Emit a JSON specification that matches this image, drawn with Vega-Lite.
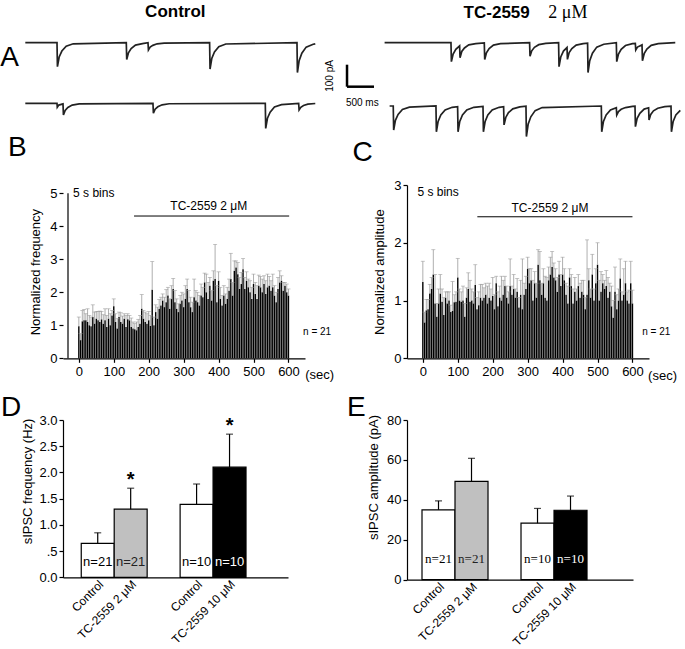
{
"$schema": "https://vega.github.io/schema/vega-lite/v6.json",
"background": "white",
"padding": {"left": 0, "top": 3, "right": 0, "bottom": 0},
"columns": 2,
"spacing": {"row": 61, "column": 102},
"bounds": "flush",
"align": "each",
"config": {
  "view": {"stroke": null},
  "font": "Liberation Sans",
  "axis": {"grid": false, "domainColor": "black", "domainWidth": 1.2, "tickColor": "black", "tickWidth": 1.2, "tickSize": 4, "labelColor": "black", "labelFont": "Liberation Sans", "labelFontSize": 13, "titleFont": "Liberation Sans", "titleFontSize": 13, "titleFontWeight": "normal", "titleColor": "black"},
  "text": {"font": "Liberation Sans", "color": "black"}
},
"datasets": {
  "c1": [{"t":0,"i":0},{"t":587,"i":0},{"t":595,"i":-109},{"t":627,"i":-65},{"t":677,"i":-38},{"t":757,"i":-16},{"t":887,"i":-5},{"t":1870,"i":0},{"t":1878,"i":-76},{"t":1910,"i":-46},{"t":1960,"i":-27},{"t":2040,"i":-11},{"t":2170,"i":-4},{"t":2272,"i":0},{"t":2280,"i":-33},{"t":2312,"i":-20},{"t":2362,"i":-12},{"t":2442,"i":-5},{"t":2572,"i":-2},{"t":3413,"i":0},{"t":3421,"i":-120},{"t":3453,"i":-72},{"t":3503,"i":-42},{"t":3583,"i":-18},{"t":3713,"i":-6},{"t":5031,"i":0},{"t":5039,"i":-136},{"t":5071,"i":-82},{"t":5121,"i":-48},{"t":5201,"i":-20},{"t":5331,"i":-7},{"t":5370,"i":-5}],
  "c2": [{"t":0,"i":0},{"t":587,"i":0},{"t":592,"i":-18},{"t":620,"i":-8},{"t":698,"i":-3},{"t":706,"i":-53},{"t":738,"i":-32},{"t":788,"i":-19},{"t":868,"i":-8},{"t":998,"i":-3},{"t":2364,"i":0},{"t":2372,"i":-45},{"t":2404,"i":-27},{"t":2454,"i":-16},{"t":2534,"i":-7},{"t":2664,"i":-2},{"t":4444,"i":0},{"t":4452,"i":-114},{"t":4484,"i":-68},{"t":4534,"i":-40},{"t":4614,"i":-17},{"t":4744,"i":-6},{"t":5062,"i":0},{"t":5070,"i":-30},{"t":5102,"i":-18},{"t":5152,"i":-10},{"t":5232,"i":-4},{"t":5370,"i":-1}],
  "t1": [{"t":0,"i":0},{"t":1229,"i":0},{"t":1237,"i":-86},{"t":1269,"i":-52},{"t":1319,"i":-30},{"t":1389,"i":-14},{"t":1397,"i":-68},{"t":1429,"i":-40},{"t":1479,"i":-24},{"t":1559,"i":-10},{"t":1689,"i":-4},{"t":1846,"i":-1},{"t":1854,"i":-76},{"t":1886,"i":-46},{"t":1936,"i":-27},{"t":2016,"i":-11},{"t":2146,"i":-4},{"t":2685,"i":0},{"t":2693,"i":-61},{"t":2725,"i":-37},{"t":2775,"i":-21},{"t":2855,"i":-9},{"t":2985,"i":-3},{"t":3222,"i":0},{"t":3230,"i":-109},{"t":3262,"i":-65},{"t":3312,"i":-38},{"t":3378,"i":-22},{"t":3386,"i":-76},{"t":3418,"i":-45},{"t":3468,"i":-27},{"t":3548,"i":-11},{"t":3678,"i":-4},{"t":3759,"i":-2},{"t":3767,"i":-136},{"t":3799,"i":-82},{"t":3849,"i":-48},{"t":3929,"i":-20},{"t":4059,"i":-7},{"t":4291,"i":0},{"t":4299,"i":-86},{"t":4331,"i":-52},{"t":4381,"i":-30},{"t":4461,"i":-13},{"t":4591,"i":-4},{"t":4643,"i":-3},{"t":4651,"i":-33},{"t":4683,"i":-20},{"t":4767,"i":-10},{"t":4775,"i":-82},{"t":4807,"i":-50},{"t":4857,"i":-29},{"t":4937,"i":-12},{"t":5067,"i":-4},{"t":5383,"i":0}],
  "t2": [{"t":93,"i":0},{"t":160,"i":0},{"t":168,"i":-109},{"t":200,"i":-65},{"t":250,"i":-38},{"t":330,"i":-16},{"t":460,"i":-5},{"t":951,"i":0},{"t":959,"i":-117},{"t":991,"i":-70},{"t":1041,"i":-41},{"t":1121,"i":-18},{"t":1251,"i":-6},{"t":1352,"i":-3},{"t":1360,"i":-117},{"t":1392,"i":-70},{"t":1442,"i":-41},{"t":1522,"i":-18},{"t":1652,"i":-6},{"t":1822,"i":-2},{"t":1830,"i":-117},{"t":1862,"i":-70},{"t":1912,"i":-41},{"t":1992,"i":-18},{"t":2122,"i":-6},{"t":2204,"i":-3},{"t":2212,"i":-86},{"t":2244,"i":-52},{"t":2294,"i":-30},{"t":2374,"i":-13},{"t":2504,"i":-4},{"t":2618,"i":-1},{"t":2626,"i":-139},{"t":2658,"i":-83},{"t":2708,"i":-49},{"t":2788,"i":-21},{"t":2918,"i":-7},{"t":4013,"i":0},{"t":4021,"i":-117},{"t":4053,"i":-70},{"t":4103,"i":-41},{"t":4183,"i":-18},{"t":4291,"i":-8},{"t":4299,"i":-41},{"t":4331,"i":-25},{"t":4381,"i":-15},{"t":4461,"i":-7},{"t":4591,"i":-2},{"t":4637,"i":-1},{"t":4645,"i":-94},{"t":4677,"i":-56},{"t":4727,"i":-33},{"t":4807,"i":-14},{"t":4889,"i":-8},{"t":4897,"i":-64},{"t":4929,"i":-38},{"t":4979,"i":-22},{"t":5059,"i":-10},{"t":5189,"i":-3},{"t":5304,"i":-1},{"t":5312,"i":-117},{"t":5344,"i":-70},{"t":5394,"i":-41},{"t":5476,"i":-20}],
  "freq": [{"t":0,"m":0.97,"h":1.25},{"t":5,"m":0.55,"h":0.75},{"t":10,"m":1.12,"h":1.45},{"t":15,"m":1.15,"h":1.48},{"t":20,"m":1.15,"h":1.35},{"t":25,"m":1.10,"h":1.50},{"t":30,"m":1.00,"h":1.30},{"t":35,"m":0.97,"h":1.25},{"t":40,"m":1.25,"h":1.62},{"t":45,"m":1.05,"h":1.40},{"t":50,"m":1.20,"h":1.42},{"t":55,"m":1.15,"h":1.42},{"t":60,"m":1.10,"h":1.43},{"t":65,"m":1.18,"h":1.42},{"t":70,"m":1.05,"h":1.32},{"t":75,"m":1.15,"h":1.50},{"t":80,"m":0.95,"h":1.30},{"t":85,"m":1.20,"h":1.50},{"t":90,"m":1.00,"h":1.35},{"t":95,"m":1.30,"h":1.45},{"t":100,"m":1.58,"h":1.80},{"t":105,"m":1.10,"h":1.35},{"t":110,"m":0.90,"h":1.20},{"t":115,"m":1.25,"h":1.40},{"t":120,"m":1.10,"h":1.38},{"t":125,"m":1.05,"h":1.28},{"t":130,"m":1.20,"h":1.35},{"t":135,"m":0.95,"h":1.30},{"t":140,"m":1.18,"h":1.35},{"t":145,"m":1.15,"h":1.30},{"t":150,"m":0.95,"h":1.22},{"t":155,"m":0.90,"h":1.10},{"t":160,"m":0.88,"h":1.05},{"t":165,"m":0.85,"h":1.10},{"t":170,"m":0.95,"h":1.18},{"t":175,"m":1.05,"h":1.30},{"t":180,"m":1.50,"h":1.93},{"t":185,"m":1.20,"h":1.45},{"t":190,"m":1.10,"h":1.40},{"t":195,"m":1.05,"h":1.35},{"t":200,"m":1.15,"h":1.42},{"t":205,"m":0.98,"h":1.30},{"t":210,"m":2.08,"h":2.93},{"t":215,"m":1.00,"h":1.25},{"t":220,"m":1.40,"h":1.62},{"t":225,"m":1.20,"h":1.55},{"t":230,"m":1.50,"h":1.78},{"t":235,"m":1.60,"h":1.85},{"t":240,"m":1.75,"h":1.95},{"t":245,"m":1.55,"h":1.85},{"t":250,"m":1.70,"h":2.08},{"t":255,"m":1.90,"h":2.15},{"t":260,"m":1.50,"h":1.80},{"t":265,"m":1.80,"h":2.20},{"t":270,"m":2.10,"h":2.42},{"t":275,"m":1.70,"h":2.05},{"t":280,"m":1.50,"h":1.80},{"t":285,"m":1.40,"h":1.65},{"t":290,"m":1.65,"h":1.90},{"t":295,"m":1.75,"h":2.00},{"t":300,"m":1.55,"h":1.95},{"t":305,"m":1.80,"h":2.20},{"t":310,"m":2.10,"h":2.40},{"t":315,"m":1.70,"h":2.05},{"t":320,"m":1.55,"h":1.85},{"t":325,"m":1.40,"h":1.70},{"t":330,"m":1.85,"h":2.40},{"t":335,"m":1.75,"h":2.05},{"t":340,"m":1.70,"h":2.00},{"t":345,"m":1.60,"h":1.90},{"t":350,"m":1.90,"h":2.25},{"t":355,"m":1.85,"h":2.15},{"t":360,"m":2.30,"h":2.58},{"t":365,"m":2.00,"h":2.55},{"t":370,"m":1.80,"h":2.30},{"t":375,"m":2.20,"h":2.45},{"t":380,"m":1.75,"h":2.05},{"t":385,"m":2.35,"h":2.65},{"t":390,"m":2.40,"h":3.45},{"t":395,"m":1.70,"h":2.20},{"t":400,"m":2.35,"h":2.62},{"t":405,"m":1.80,"h":2.15},{"t":410,"m":1.60,"h":1.90},{"t":415,"m":1.90,"h":2.20},{"t":420,"m":1.65,"h":1.95},{"t":425,"m":1.80,"h":2.15},{"t":430,"m":2.05,"h":2.40},{"t":435,"m":2.40,"h":3.18},{"t":440,"m":1.90,"h":2.30},{"t":445,"m":2.65,"h":2.95},{"t":450,"m":2.75,"h":2.95},{"t":455,"m":2.55,"h":2.90},{"t":460,"m":2.10,"h":2.45},{"t":465,"m":2.25,"h":2.60},{"t":470,"m":2.70,"h":3.02},{"t":475,"m":2.10,"h":2.45},{"t":480,"m":2.35,"h":2.62},{"t":485,"m":2.15,"h":2.40},{"t":490,"m":2.00,"h":2.35},{"t":495,"m":1.80,"h":2.15},{"t":500,"m":2.25,"h":2.55},{"t":505,"m":1.95,"h":2.30},{"t":510,"m":1.80,"h":2.20},{"t":515,"m":2.20,"h":2.52},{"t":520,"m":2.15,"h":2.48},{"t":525,"m":2.00,"h":2.40},{"t":530,"m":2.25,"h":2.50},{"t":535,"m":1.95,"h":2.35},{"t":540,"m":2.15,"h":2.55},{"t":545,"m":2.20,"h":2.48},{"t":550,"m":2.05,"h":2.35},{"t":555,"m":2.15,"h":2.55},{"t":560,"m":1.90,"h":2.20},{"t":565,"m":1.70,"h":2.00},{"t":570,"m":2.10,"h":2.45},{"t":575,"m":2.30,"h":2.65},{"t":580,"m":2.35,"h":2.50},{"t":585,"m":2.05,"h":2.30},{"t":590,"m":2.20,"h":2.30},{"t":595,"m":2.00,"h":2.25},{"t":600,"m":1.90,"h":2.10}],
  "amp": [{"t":0,"m":1.32,"h":1.68},{"t":5,"m":0.62,"h":0.80},{"t":10,"m":0.83,"h":1.02},{"t":15,"m":0.85,"h":1.02},{"t":20,"m":1.12,"h":1.28},{"t":25,"m":1.20,"h":1.40},{"t":30,"m":1.45,"h":1.88},{"t":35,"m":0.95,"h":1.45},{"t":40,"m":0.72,"h":0.95},{"t":45,"m":0.95,"h":1.20},{"t":50,"m":1.12,"h":1.45},{"t":55,"m":0.98,"h":1.20},{"t":60,"m":0.75,"h":1.05},{"t":65,"m":1.05,"h":1.15},{"t":70,"m":0.95,"h":1.15},{"t":75,"m":1.00,"h":1.15},{"t":80,"m":0.80,"h":0.92},{"t":85,"m":0.82,"h":1.33},{"t":90,"m":0.97,"h":1.10},{"t":95,"m":0.98,"h":1.15},{"t":100,"m":1.40,"h":1.73},{"t":105,"m":1.00,"h":1.20},{"t":110,"m":0.98,"h":1.15},{"t":115,"m":1.00,"h":1.25},{"t":120,"m":0.72,"h":0.95},{"t":125,"m":1.05,"h":1.22},{"t":130,"m":1.20,"h":1.48},{"t":135,"m":0.98,"h":1.35},{"t":140,"m":1.00,"h":1.20},{"t":145,"m":0.95,"h":1.15},{"t":150,"m":1.27,"h":1.62},{"t":155,"m":0.85,"h":1.05},{"t":160,"m":0.92,"h":1.15},{"t":165,"m":1.05,"h":1.28},{"t":170,"m":1.00,"h":1.28},{"t":175,"m":1.05,"h":1.22},{"t":180,"m":1.10,"h":1.30},{"t":185,"m":0.95,"h":1.25},{"t":190,"m":1.05,"h":1.30},{"t":195,"m":1.00,"h":1.20},{"t":200,"m":1.08,"h":1.40},{"t":205,"m":0.85,"h":1.10},{"t":210,"m":1.30,"h":1.42},{"t":215,"m":0.90,"h":1.15},{"t":220,"m":1.05,"h":1.25},{"t":225,"m":1.00,"h":1.42},{"t":230,"m":1.10,"h":1.35},{"t":235,"m":1.25,"h":1.42},{"t":240,"m":1.05,"h":1.25},{"t":245,"m":0.95,"h":1.15},{"t":250,"m":1.25,"h":1.72},{"t":255,"m":1.10,"h":1.25},{"t":260,"m":1.20,"h":1.45},{"t":265,"m":1.05,"h":1.20},{"t":270,"m":1.15,"h":1.38},{"t":275,"m":0.88,"h":1.05},{"t":280,"m":1.10,"h":1.35},{"t":285,"m":0.85,"h":1.72},{"t":290,"m":1.10,"h":1.30},{"t":295,"m":1.20,"h":1.42},{"t":300,"m":1.55,"h":1.75},{"t":305,"m":1.30,"h":1.55},{"t":310,"m":1.35,"h":1.55},{"t":315,"m":1.00,"h":1.35},{"t":320,"m":1.30,"h":1.50},{"t":325,"m":1.05,"h":1.30},{"t":330,"m":1.62,"h":1.88},{"t":335,"m":1.35,"h":1.85},{"t":340,"m":1.10,"h":1.30},{"t":345,"m":1.30,"h":1.55},{"t":350,"m":1.05,"h":1.42},{"t":355,"m":1.00,"h":1.40},{"t":360,"m":1.35,"h":1.58},{"t":365,"m":1.45,"h":1.75},{"t":370,"m":1.58,"h":1.85},{"t":375,"m":1.40,"h":1.65},{"t":380,"m":1.35,"h":1.55},{"t":385,"m":1.15,"h":1.40},{"t":390,"m":1.45,"h":1.68},{"t":395,"m":1.25,"h":1.45},{"t":400,"m":1.45,"h":1.75},{"t":405,"m":1.35,"h":1.55},{"t":410,"m":1.10,"h":1.30},{"t":415,"m":0.95,"h":1.25},{"t":420,"m":1.40,"h":1.55},{"t":425,"m":1.25,"h":1.45},{"t":430,"m":0.95,"h":1.20},{"t":435,"m":1.15,"h":1.40},{"t":440,"m":1.00,"h":1.20},{"t":445,"m":1.25,"h":1.45},{"t":450,"m":1.05,"h":1.30},{"t":455,"m":1.15,"h":1.35},{"t":460,"m":1.10,"h":1.35},{"t":465,"m":0.85,"h":1.05},{"t":470,"m":1.10,"h":2.05},{"t":475,"m":1.35,"h":1.55},{"t":480,"m":1.05,"h":1.20},{"t":485,"m":1.45,"h":1.80},{"t":490,"m":1.00,"h":1.20},{"t":495,"m":1.30,"h":1.55},{"t":500,"m":1.62,"h":2.00},{"t":505,"m":1.00,"h":1.35},{"t":510,"m":1.15,"h":1.50},{"t":515,"m":1.30,"h":1.45},{"t":520,"m":1.20,"h":1.35},{"t":525,"m":1.25,"h":1.52},{"t":530,"m":1.05,"h":1.40},{"t":535,"m":1.15,"h":1.30},{"t":540,"m":0.90,"h":1.25},{"t":545,"m":0.70,"h":1.00},{"t":550,"m":1.15,"h":1.58},{"t":555,"m":0.85,"h":1.10},{"t":560,"m":1.00,"h":1.20},{"t":565,"m":1.38,"h":1.72},{"t":570,"m":1.00,"h":1.15},{"t":575,"m":1.10,"h":1.55},{"t":580,"m":1.30,"h":1.68},{"t":585,"m":1.00,"h":1.15},{"t":590,"m":0.95,"h":1.18},{"t":595,"m":1.30,"h":1.68},{"t":600,"m":0.95,"h":1.18}],
  "dfreq": [{"k":"a","m":0.65,"h":0.85,"n":"n=21","s":""},{"k":"b","m":1.30,"h":1.70,"n":"n=21","s":"*"},{"k":"c","m":1.39,"h":1.78,"n":"n=10","s":""},{"k":"d","m":2.10,"h":2.73,"n":"n=10","s":"*"}],
  "eamp": [{"k":"a","m":35.0,"h":39.5,"n":"n=21"},{"k":"b","m":49.3,"h":60.8,"n":"n=21"},{"k":"c","m":28.3,"h":35.7,"n":"n=10"},{"k":"d","m":34.8,"h":41.9,"n":"n=10"}]
},
"concat": [
  {
    "width": 242, "height": 94,
    "layer": [
      {"data": {"name": "c1"}, "mark": {"type": "line", "color": "#222", "strokeWidth": 1.7},
       "encoding": {"x": {"field": "t", "type": "quantitative", "scale": {"domain": [698, 5179.5], "nice": false, "zero": false}, "axis": null},
                    "y": {"field": "i", "type": "quantitative", "scale": {"domain": [-369.6, 57.7], "nice": false, "zero": false}, "axis": null}}},
      {"data": {"name": "c2"}, "mark": {"type": "line", "color": "#222", "strokeWidth": 1.7},
       "encoding": {"x": {"field": "t", "type": "quantitative", "axis": null},
                    "y": {"field": "i", "type": "quantitative", "scale": {"domain": [-94.1, 333.2], "nice": false, "zero": false}, "axis": null}}},
      {"data": {"values": [{}]}, "mark": {"type": "text", "fontSize": 17, "fontWeight": "bold", "baseline": "middle"},
       "encoding": {"x": {"datum": 2778, "axis": null}, "y": {"datum": 139.5, "scale": {"domain": [-369.6, 57.7], "nice": false, "zero": false}, "axis": null}, "text": {"value": "Control"}}},
      {"data": {"values": [{}]}, "mark": {"type": "text", "fontSize": 28, "align": "left", "baseline": "middle"},
       "encoding": {"x": {"datum": -463, "axis": null}, "y": {"datum": -70, "scale": {"domain": [-369.6, 57.7], "nice": false, "zero": false}, "axis": null}, "text": {"value": "A"}}}
    ],
    "resolve": {"scale": {"y": "independent"}, "axis": {"y": "independent"}}
  },
  {
    "width": 242, "height": 94,
    "layer": [
      {"data": {"name": "t1"}, "mark": {"type": "line", "color": "#222", "strokeWidth": 1.7},
       "encoding": {"x": {"field": "t", "type": "quantitative", "scale": {"domain": [414.8, 4896.3], "nice": false, "zero": false}, "axis": null},
                    "y": {"field": "i", "type": "quantitative", "scale": {"domain": [-369.6, 57.7], "nice": false, "zero": false}, "axis": null}}},
      {"data": {"name": "t2"}, "mark": {"type": "line", "color": "#222", "strokeWidth": 1.7},
       "encoding": {"x": {"field": "t", "type": "quantitative", "axis": null},
                    "y": {"field": "i", "type": "quantitative", "scale": {"domain": [-81.8, 345.5], "nice": false, "zero": false}, "axis": null}}},
      {"data": {"values": [{}]}, "mark": {"type": "text", "fontSize": 17, "fontWeight": "bold", "align": "left", "baseline": "middle"},
       "encoding": {"x": {"datum": 1463, "axis": null}, "y": {"datum": 133.6, "scale": {"domain": [-369.6, 57.7], "nice": false, "zero": false}, "axis": null}, "text": {"value": "TC-2559"}}},
      {"data": {"values": [{}]}, "mark": {"type": "text", "fontSize": 18, "font": "Liberation Serif", "align": "left", "baseline": "middle"},
       "encoding": {"x": {"datum": 3031, "axis": null}, "y": {"datum": 133.6, "scale": {"domain": [-369.6, 57.7], "nice": false, "zero": false}, "axis": null}, "text": {"value": "2 μM"}}},
      {"data": {"values": [{}]}, "mark": {"type": "rule", "strokeWidth": 2.5, "color": "black"},
       "encoding": {"x": {"datum": -696, "axis": null}, "y": {"datum": -100, "scale": {"domain": [-369.6, 57.7], "nice": false, "zero": false}, "axis": null}, "y2": {"datum": -200}}},
      {"data": {"values": [{}]}, "mark": {"type": "rule", "strokeWidth": 2.5, "color": "black"},
       "encoding": {"x": {"datum": -696, "axis": null}, "x2": {"datum": -196}, "y": {"datum": -200, "scale": {"domain": [-369.6, 57.7], "nice": false, "zero": false}, "axis": null}}},
      {"data": {"values": [{}]}, "mark": {"type": "text", "fontSize": 10, "angle": 270, "baseline": "middle"},
       "encoding": {"x": {"datum": -1005, "axis": null}, "y": {"datum": -151, "scale": {"domain": [-369.6, 57.7], "nice": false, "zero": false}, "axis": null}, "text": {"value": "100 pA"}}},
      {"data": {"values": [{}]}, "mark": {"type": "text", "fontSize": 10, "baseline": "middle"},
       "encoding": {"x": {"datum": -413, "axis": null}, "y": {"datum": -274, "scale": {"domain": [-369.6, 57.7], "nice": false, "zero": false}, "axis": null}, "text": {"value": "500 ms"}}}
    ],
    "resolve": {"scale": {"y": "independent"}, "axis": {"y": "independent"}}
  },
  {
    "width": 242, "height": 173.3,
    "layer": [
      {"data": {"name": "freq"}, "mark": {"type": "bar", "size": 1.4, "color": "black"},
       "encoding": {"x": {"field": "t", "type": "quantitative", "scale": {"domain": [-31, 633], "nice": false, "zero": false}, "axis": {"values": [0,100,200,300,400,500,600], "title": null, "labelPadding": 3}},
                    "y": {"field": "m", "type": "quantitative", "scale": {"domain": [0, 5.25], "nice": false}, "axis": {"values": [0,1,2,3,4,5], "title": "Normalized frequency", "domain": false, "titlePadding": 7}}}},
      {"data": {"name": "freq"}, "mark": {"type": "rule", "color": "#9a9a9a", "strokeWidth": 0.8},
       "encoding": {"x": {"field": "t", "type": "quantitative", "axis": {"values": [0,100,200,300,400,500,600], "title": null, "labelPadding": 3}}, "y": {"field": "m", "type": "quantitative", "axis": {"values": [0,1,2,3,4,5], "title": "Normalized frequency", "domain": false, "titlePadding": 7}}, "y2": {"field": "h"}}},
      {"data": {"name": "freq"}, "mark": {"type": "tick", "orient": "horizontal", "color": "#9a9a9a", "size": 4, "thickness": 0.8},
       "encoding": {"x": {"field": "t", "type": "quantitative", "axis": {"values": [0,100,200,300,400,500,600], "title": null, "labelPadding": 3}}, "y": {"field": "h", "type": "quantitative", "axis": {"values": [0,1,2,3,4,5], "title": "Normalized frequency", "domain": false, "titlePadding": 7}}}},
      {"data": {"values": [{}]}, "mark": {"type": "rule", "strokeWidth": 1.2, "color": "black"},
       "encoding": {"x": {"datum": -31, "axis": {"values": [0,100,200,300,400,500,600], "title": null, "labelPadding": 3}}, "y": {"datum": 0, "axis": {"values": [0,1,2,3,4,5], "title": "Normalized frequency", "domain": false, "titlePadding": 7}}, "y2": {"datum": 5}}},
      {"data": {"values": [{}]}, "mark": {"type": "rule", "strokeWidth": 1, "color": "black"},
       "encoding": {"x": {"datum": 158, "axis": {"values": [0,100,200,300,400,500,600], "title": null, "labelPadding": 3}}, "x2": {"datum": 602}, "y": {"datum": 4.31, "axis": {"values": [0,1,2,3,4,5], "title": "Normalized frequency", "domain": false, "titlePadding": 7}}}},
      {"data": {"values": [{}]}, "mark": {"type": "text", "fontSize": 12, "baseline": "middle"},
       "encoding": {"x": {"datum": 372, "axis": {"values": [0,100,200,300,400,500,600], "title": null, "labelPadding": 3}}, "y": {"datum": 4.62, "axis": {"values": [0,1,2,3,4,5], "title": "Normalized frequency", "domain": false, "titlePadding": 7}}, "text": {"value": "TC-2559 2 μM"}}},
      {"data": {"values": [{}]}, "mark": {"type": "text", "fontSize": 12, "align": "left", "baseline": "middle"},
       "encoding": {"x": {"datum": -16.5, "axis": {"values": [0,100,200,300,400,500,600], "title": null, "labelPadding": 3}}, "y": {"datum": 5.02, "axis": {"values": [0,1,2,3,4,5], "title": "Normalized frequency", "domain": false, "titlePadding": 7}}, "text": {"value": "5 s bins"}}},
      {"data": {"values": [{}]}, "mark": {"type": "text", "fontSize": 10, "baseline": "middle"},
       "encoding": {"x": {"datum": 682, "axis": {"values": [0,100,200,300,400,500,600], "title": null, "labelPadding": 3}}, "y": {"datum": 0.79, "axis": {"values": [0,1,2,3,4,5], "title": "Normalized frequency", "domain": false, "titlePadding": 7}}, "text": {"value": "n = 21"}}},
      {"data": {"values": [{}]}, "mark": {"type": "text", "fontSize": 13, "baseline": "middle"},
       "encoding": {"x": {"datum": 689, "axis": {"values": [0,100,200,300,400,500,600], "title": null, "labelPadding": 3}}, "y": {"datum": -0.52, "axis": {"values": [0,1,2,3,4,5], "title": "Normalized frequency", "domain": false, "titlePadding": 7}}, "text": {"value": "(sec)"}}},
      {"data": {"values": [{}]}, "mark": {"type": "text", "fontSize": 28, "align": "left", "baseline": "middle"},
       "encoding": {"x": {"datum": -203, "axis": {"values": [0,100,200,300,400,500,600], "title": null, "labelPadding": 3}}, "y": {"datum": 6.37, "axis": {"values": [0,1,2,3,4,5], "title": "Normalized frequency", "domain": false, "titlePadding": 7}}, "text": {"value": "B"}}}
    ]
  },
  {
    "width": 242, "height": 173.3,
    "layer": [
      {"data": {"name": "amp"}, "mark": {"type": "bar", "size": 1.4, "color": "black"},
       "encoding": {"x": {"field": "t", "type": "quantitative", "scale": {"domain": [-31, 633], "nice": false, "zero": false}, "axis": {"values": [0,100,200,300,400,500,600], "title": null, "labelPadding": 3}},
                    "y": {"field": "m", "type": "quantitative", "scale": {"domain": [0, 3], "nice": false}, "axis": {"values": [0,1,2,3], "format": "d", "title": "Normalized amplitude", "titlePadding": 7}}}},
      {"data": {"name": "amp"}, "mark": {"type": "rule", "color": "#9a9a9a", "strokeWidth": 0.8},
       "encoding": {"x": {"field": "t", "type": "quantitative", "axis": {"values": [0,100,200,300,400,500,600], "title": null, "labelPadding": 3}}, "y": {"field": "m", "type": "quantitative", "axis": {"values": [0,1,2,3], "format": "d", "title": "Normalized amplitude", "titlePadding": 7}}, "y2": {"field": "h"}}},
      {"data": {"name": "amp"}, "mark": {"type": "tick", "orient": "horizontal", "color": "#9a9a9a", "size": 4, "thickness": 0.8},
       "encoding": {"x": {"field": "t", "type": "quantitative", "axis": {"values": [0,100,200,300,400,500,600], "title": null, "labelPadding": 3}}, "y": {"field": "h", "type": "quantitative", "axis": {"values": [0,1,2,3], "format": "d", "title": "Normalized amplitude", "titlePadding": 7}}}},
      {"data": {"values": [{}]}, "mark": {"type": "rule", "strokeWidth": 1, "color": "black"},
       "encoding": {"x": {"datum": 156, "axis": {"values": [0,100,200,300,400,500,600], "title": null, "labelPadding": 3}}, "x2": {"datum": 600}, "y": {"datum": 2.45, "axis": {"values": [0,1,2,3], "format": "d", "title": "Normalized amplitude", "titlePadding": 7}}}},
      {"data": {"values": [{}]}, "mark": {"type": "text", "fontSize": 12, "baseline": "middle"},
       "encoding": {"x": {"datum": 364, "axis": {"values": [0,100,200,300,400,500,600], "title": null, "labelPadding": 3}}, "y": {"datum": 2.61, "axis": {"values": [0,1,2,3], "format": "d", "title": "Normalized amplitude", "titlePadding": 7}}, "text": {"value": "TC-2559 2 μM"}}},
      {"data": {"values": [{}]}, "mark": {"type": "text", "fontSize": 12, "align": "left", "baseline": "middle"},
       "encoding": {"x": {"datum": -15.6, "axis": {"values": [0,100,200,300,400,500,600], "title": null, "labelPadding": 3}}, "y": {"datum": 2.88, "axis": {"values": [0,1,2,3], "format": "d", "title": "Normalized amplitude", "titlePadding": 7}}, "text": {"value": "5 s bins"}}},
      {"data": {"values": [{}]}, "mark": {"type": "text", "fontSize": 10, "baseline": "middle"},
       "encoding": {"x": {"datum": 668, "axis": {"values": [0,100,200,300,400,500,600], "title": null, "labelPadding": 3}}, "y": {"datum": 0.46, "axis": {"values": [0,1,2,3], "format": "d", "title": "Normalized amplitude", "titlePadding": 7}}, "text": {"value": "n = 21"}}},
      {"data": {"values": [{}]}, "mark": {"type": "text", "fontSize": 13, "baseline": "middle"},
       "encoding": {"x": {"datum": 686, "axis": {"values": [0,100,200,300,400,500,600], "title": null, "labelPadding": 3}}, "y": {"datum": -0.3, "axis": {"values": [0,1,2,3], "format": "d", "title": "Normalized amplitude", "titlePadding": 7}}, "text": {"value": "(sec)"}}},
      {"data": {"values": [{}]}, "mark": {"type": "text", "fontSize": 28, "align": "left", "baseline": "middle"},
       "encoding": {"x": {"datum": -201, "axis": {"values": [0,100,200,300,400,500,600], "title": null, "labelPadding": 3}}, "y": {"datum": 3.56, "axis": {"values": [0,1,2,3], "format": "d", "title": "Normalized amplitude", "titlePadding": 7}}, "text": {"value": "C"}}}
    ]
  },
  {
    "width": 225, "height": 157.4,
    "title": {"text": "D", "anchor": "start", "frame": "group", "dx": -62, "fontSize": 28, "fontWeight": "normal", "font": "Liberation Sans", "offset": -8},
    "data": {"name": "dfreq"},
    "layer": [
      {"mark": {"type": "bar", "stroke": "black", "strokeWidth": 1.2},
       "encoding": {"x": {"field": "k", "type": "nominal",
                       "scale": {"domain": ["a","b","g","c","d"], "paddingInner": 0, "paddingOuter": 0.914, "align": 0.303},
                       "axis": {"title": null, "ticks": false, "labelAngle": -45, "labelPadding": 1, "labelFontSize": 12,
                                "labelExpr": "datum.value == 'a' || datum.value == 'c' ? 'Control' : datum.value == 'b' ? 'TC-2559 2 μM' : datum.value == 'd' ? 'TC-2559 10 μM' : ''"}},
                    "y": {"field": "m", "type": "quantitative", "scale": {"domain": [0, 3], "nice": false},
                          "axis": {"values": [0,0.5,1,1.5,2,2.5,3], "title": "sIPSC frequency (Hz)", "titlePadding": 4, "titleY": 61,
                                   "labelExpr": "datum.value == 0.5 ? '.5' : format(datum.value, '.1f')"}},
                    "fill": {"field": "k", "type": "nominal", "scale": {"domain": ["a","b","c","d"], "range": ["white","#c0c0c0","white","black"]}, "legend": null}}},
      {"mark": {"type": "rule", "color": "black", "strokeWidth": 1.2},
       "encoding": {"x": {"field": "k", "type": "nominal", "axis": {"title": null, "ticks": false, "labelAngle": -45, "labelPadding": 1, "labelFontSize": 12, "labelExpr": "datum.value == 'a' || datum.value == 'c' ? 'Control' : datum.value == 'b' ? 'TC-2559 2 μM' : datum.value == 'd' ? 'TC-2559 10 μM' : ''"}},
                    "y": {"field": "m", "type": "quantitative", "axis": {"values": [0,0.5,1,1.5,2,2.5,3], "title": "sIPSC frequency (Hz)", "titlePadding": 4, "titleY": 61, "labelExpr": "datum.value == 0.5 ? '.5' : format(datum.value, '.1f')"}}, "y2": {"field": "h"}}},
      {"mark": {"type": "tick", "orient": "horizontal", "color": "black", "size": 7, "thickness": 1.2},
       "encoding": {"x": {"field": "k", "type": "nominal", "axis": {"title": null, "ticks": false, "labelAngle": -45, "labelPadding": 1, "labelFontSize": 12, "labelExpr": "datum.value == 'a' || datum.value == 'c' ? 'Control' : datum.value == 'b' ? 'TC-2559 2 μM' : datum.value == 'd' ? 'TC-2559 10 μM' : ''"}},
                    "y": {"field": "h", "type": "quantitative", "axis": {"values": [0,0.5,1,1.5,2,2.5,3], "title": "sIPSC frequency (Hz)", "titlePadding": 4, "titleY": 61, "labelExpr": "datum.value == 0.5 ? '.5' : format(datum.value, '.1f')"}}}},
      {"mark": {"type": "text", "fontSize": 20, "fontWeight": "bold", "baseline": "bottom", "dy": 2},
       "encoding": {"x": {"field": "k", "type": "nominal", "axis": {"title": null, "ticks": false, "labelAngle": -45, "labelPadding": 1, "labelFontSize": 12, "labelExpr": "datum.value == 'a' || datum.value == 'c' ? 'Control' : datum.value == 'b' ? 'TC-2559 2 μM' : datum.value == 'd' ? 'TC-2559 10 μM' : ''"}},
                    "y": {"field": "h", "type": "quantitative", "axis": {"values": [0,0.5,1,1.5,2,2.5,3], "title": "sIPSC frequency (Hz)", "titlePadding": 4, "titleY": 61, "labelExpr": "datum.value == 0.5 ? '.5' : format(datum.value, '.1f')"}}, "text": {"field": "s"}}},
      {"mark": {"type": "text", "fontSize": 13, "baseline": "bottom", "dy": -8},
       "encoding": {"x": {"field": "k", "type": "nominal", "axis": {"title": null, "ticks": false, "labelAngle": -45, "labelPadding": 1, "labelFontSize": 12, "labelExpr": "datum.value == 'a' || datum.value == 'c' ? 'Control' : datum.value == 'b' ? 'TC-2559 2 μM' : datum.value == 'd' ? 'TC-2559 10 μM' : ''"}},
                    "y": {"datum": 0, "axis": {"values": [0,0.5,1,1.5,2,2.5,3], "title": "sIPSC frequency (Hz)", "titlePadding": 4, "titleY": 61, "labelExpr": "datum.value == 0.5 ? '.5' : format(datum.value, '.1f')"}}, "text": {"field": "n"},
                    "color": {"field": "k", "type": "nominal", "scale": {"domain": ["a","b","c","d"], "range": ["black","#222","black","white"]}, "legend": null}}}
    ]
  },
  {
    "width": 226, "height": 159.7,
    "title": {"text": "E", "anchor": "start", "frame": "group", "dx": -60, "fontSize": 28, "fontWeight": "normal", "font": "Liberation Sans", "offset": -8},
    "data": {"name": "eamp"},
    "layer": [
      {"mark": {"type": "bar", "stroke": "black", "strokeWidth": 1.2},
       "encoding": {"x": {"field": "k", "type": "nominal",
                       "scale": {"domain": ["a","b","g","c","d"], "paddingInner": 0, "paddingOuter": 0.924, "align": 0.246},
                       "axis": {"title": null, "ticks": false, "labelAngle": -45, "labelPadding": 1, "labelFontSize": 12,
                                "labelExpr": "datum.value == 'a' || datum.value == 'c' ? 'Control' : datum.value == 'b' ? 'TC-2559 2 μM' : datum.value == 'd' ? 'TC-2559 10 μM' : ''"}},
                    "y": {"field": "m", "type": "quantitative", "scale": {"domain": [0, 80], "nice": false},
                          "axis": {"values": [0,20,40,60,80], "title": "sIPSC amplitude (pA)", "titlePadding": 6, "titleY": 57}},
                    "fill": {"field": "k", "type": "nominal", "scale": {"domain": ["a","b","c","d"], "range": ["white","#c0c0c0","white","black"]}, "legend": null}}},
      {"mark": {"type": "rule", "color": "black", "strokeWidth": 1.2},
       "encoding": {"x": {"field": "k", "type": "nominal", "axis": {"title": null, "ticks": false, "labelAngle": -45, "labelPadding": 1, "labelFontSize": 12, "labelExpr": "datum.value == 'a' || datum.value == 'c' ? 'Control' : datum.value == 'b' ? 'TC-2559 2 μM' : datum.value == 'd' ? 'TC-2559 10 μM' : ''"}},
                    "y": {"field": "m", "type": "quantitative", "axis": {"values": [0,20,40,60,80], "title": "sIPSC amplitude (pA)", "titlePadding": 6, "titleY": 57}}, "y2": {"field": "h"}}},
      {"mark": {"type": "tick", "orient": "horizontal", "color": "black", "size": 7, "thickness": 1.2},
       "encoding": {"x": {"field": "k", "type": "nominal", "axis": {"title": null, "ticks": false, "labelAngle": -45, "labelPadding": 1, "labelFontSize": 12, "labelExpr": "datum.value == 'a' || datum.value == 'c' ? 'Control' : datum.value == 'b' ? 'TC-2559 2 μM' : datum.value == 'd' ? 'TC-2559 10 μM' : ''"}},
                    "y": {"field": "h", "type": "quantitative", "axis": {"values": [0,20,40,60,80], "title": "sIPSC amplitude (pA)", "titlePadding": 6, "titleY": 57}}}},
      {"mark": {"type": "text", "fontSize": 13, "font": "Liberation Serif", "baseline": "bottom", "dy": -14},
       "encoding": {"x": {"field": "k", "type": "nominal", "axis": {"title": null, "ticks": false, "labelAngle": -45, "labelPadding": 1, "labelFontSize": 12, "labelExpr": "datum.value == 'a' || datum.value == 'c' ? 'Control' : datum.value == 'b' ? 'TC-2559 2 μM' : datum.value == 'd' ? 'TC-2559 10 μM' : ''"}},
                    "y": {"datum": 0, "axis": {"values": [0,20,40,60,80], "title": "sIPSC amplitude (pA)", "titlePadding": 6, "titleY": 57}}, "text": {"field": "n"},
                    "color": {"field": "k", "type": "nominal", "scale": {"domain": ["a","b","c","d"], "range": ["#777","#777","#777","white"]}, "legend": null}}}
    ]
  }
]
}
